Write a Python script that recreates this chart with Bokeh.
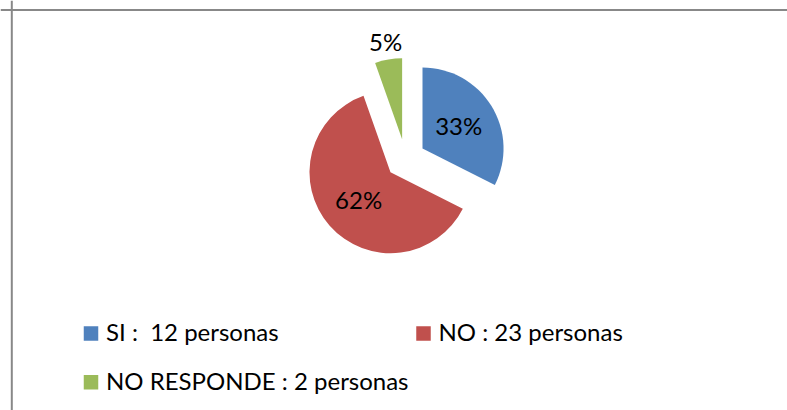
import numpy as np
from bokeh.plotting import figure
from bokeh.models import Range1d, Span, ColumnDataSource
from bokeh.core.properties import value
from bokeh.embed import file_html
from bokeh.resources import INLINE

# ---- data ----
categories = ["SI", "NO", "NO RESPONDE"]
counts = [12, 23, 2]
pct_labels = ["33%", "62%", "5%"]
legend_labels = ["SI :\u00a0 12 personas", "NO : 23 personas", "NO RESPONDE : 2 personas"]
colors = ["#4F81BD", "#C0504D", "#9BBB59"]

# ---- layout (pixels, y measured upward from the bottom) ----
W, H = 787, 410
CX, CY = 405, 251.5      # pie centre
R = 81                   # radius
EXPLODE = 20             # explosion offset
LABEL_IN = 42.5
LABEL_OUT = R + 17
FONT = "Lato"
FS = "24px"
TXT_DY = 1.1             # anchor offset so that capitals centre on the target

p = figure(width=W, height=H, output_backend="svg", toolbar_location=None,
           x_range=Range1d(0, W), y_range=Range1d(0, H),
           x_axis_type=None, y_axis_type=None, min_border=0,
           outline_line_color=None, background_fill_color="white",
           border_fill_color="white")
p.grid.visible = False

vals = np.array(counts, dtype=float)
frac = vals / vals.sum()
cum = np.concatenate([[0], np.cumsum(frac)])
start = np.pi / 2 - 2 * np.pi * cum[:-1]
end = np.pi / 2 - 2 * np.pi * cum[1:]
mid = (start + end) / 2
xs = CX + EXPLODE * np.cos(mid)
ys = CY + EXPLODE * np.sin(mid)

src = ColumnDataSource(dict(x=xs, y=ys, start=start, end=end, color=colors,
                            cat=categories))
p.wedge(x="x", y="y", radius=R, start_angle="start", end_angle="end",
        direction="clock", fill_color="color", line_color=None, source=src)

lr = np.where(frac < 0.1, LABEL_OUT, LABEL_IN)
lx = xs + lr * np.cos(mid)
ly = ys + lr * np.sin(mid) + TXT_DY
p.text(x=lx, y=ly, text=pct_labels, text_font=value(FONT), text_font_size=FS,
       text_align="center", text_baseline="alphabetic", text_color="black")

# ---- legend ----
LEG_X0, LEG_Y0 = 90.5, 77
COL_STEP, ROW_STEP = 332.5, 48.7
MK = 14.5
idx = np.arange(len(categories))
mx = LEG_X0 + (idx % 2) * COL_STEP
my = LEG_Y0 - (idx // 2) * ROW_STEP
p.rect(x=mx, y=my, width=MK, height=MK, fill_color=colors, line_color=None)
p.text(x=mx + 15, y=my + 1 + TXT_DY, text=legend_labels, text_font=value(FONT),
       text_font_size=FS, text_align="left", text_baseline="alphabetic",
       text_color="black")

# ---- chart border (right/bottom lie outside the picture) ----
p.add_layout(Span(location=11.3, dimension="height", line_color="#888888", line_width=2))
p.add_layout(Span(location=400.5, dimension="width", line_color="#888888", line_width=2))

open("out.html", "w").write(file_html(p, INLINE))
